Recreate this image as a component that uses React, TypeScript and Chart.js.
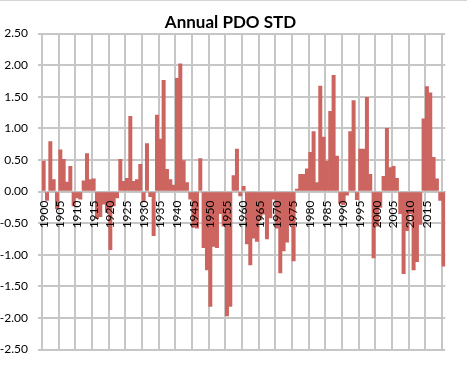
import React, { useEffect, useRef } from 'react';
import { Chart, registerables } from 'chart.js';

Chart.register(...registerables);

const TITLE = 'Annual PDO STD';

const years = [
  '1900','1901','1902','1903','1904','1905','1906','1907','1908','1909',
  '1910','1911','1912','1913','1914','1915','1916','1917','1918','1919',
  '1920','1921','1922','1923','1924','1925','1926','1927','1928','1929',
  '1930','1931','1932','1933','1934','1935','1936','1937','1938','1939',
  '1940','1941','1942','1943','1944','1945','1946','1947','1948','1949',
  '1950','1951','1952','1953','1954','1955','1956','1957','1958','1959',
  '1960','1961','1962','1963','1964','1965','1966','1967','1968','1969',
  '1970','1971','1972','1973','1974','1975','1976','1977','1978','1979',
  '1980','1981','1982','1983','1984','1985','1986','1987','1988','1989',
  '1990','1991','1992','1993','1994','1995','1996','1997','1998','1999',
  '2000','2001','2002','2003','2004','2005','2006','2007','2008','2009',
  '2010','2011','2012','2013','2014','2015','2016','2017','2018','2019',
  '2020',
];

const pdoValues = [
  0.48, -0.14, 0.79, 0.19, -0.27, 0.66, 0.51, 0.15, 0.40, -0.23,
  -0.10, -0.12, 0.17, 0.60, 0.19, 0.20, -0.43, -0.40, -0.20, -0.33,
  -0.92, -0.23, -0.10, 0.51, 0.16, 0.21, 1.19, 0.16, 0.19, 0.43,
  -0.16, 0.76, -0.08, -0.70, 1.21, 0.83, 1.76, 0.35, 0.19, 0.10,
  1.79, 2.02, 0.49, 0.14, -0.12, -0.57, -0.58, 0.52, -0.89, -1.24,
  -1.82, -0.87, -0.89, -0.35, -0.55, -1.97, -1.82, 0.25, 0.67, -0.07,
  0.08, -0.83, -1.16, -0.74, -0.79, -0.45, -0.36, -0.75, -0.42, -0.12,
  -0.58, -1.29, -0.94, -0.80, -0.50, -1.10, 0.04, 0.27, 0.27, 0.36,
  0.62, 0.95, 0.14, 1.67, 0.86, 0.48, 1.27, 1.84, 0.56, -0.19,
  -0.21, -0.06, 0.95, 1.44, -0.13, 0.67, 0.67, 1.49, 0.27, -1.05,
  -0.55, -0.25, 0.24, 1.00, 0.38, 0.40, 0.21, -0.35, -1.30, -0.62,
  -0.35, -1.24, -1.11, -0.52, 1.15, 1.66, 1.56, 0.54, 0.20, -0.14,
  -1.18,
];

const xTickLabels = [
  '1900','1905','1910','1915','1920','1925','1930','1935','1940','1945',
  '1950','1955','1960','1965','1970','1975','1980','1985','1990','1995',
  '2000','2005','2010','2015',
];

const Y_MIN = -2.5;
const Y_MAX = 2.5;
const Y_STEP = 0.5;

const BAR_COLOR = '#cc6560';
const GRID_COLOR = '#c6c6c6';
const FONT_FAMILY = 'Lato, "Open Sans", "Liberation Sans", sans-serif';

export default function App() {
  const canvasRef = useRef<HTMLCanvasElement | null>(null);

  useEffect(() => {
    const canvas = canvasRef.current;
    if (!canvas) return;
    const chart = new Chart(canvas, {
      type: 'bar',
      data: {
        labels: years,
        datasets: [
          {
            label: TITLE,
            data: pdoValues,
            backgroundColor: BAR_COLOR,
            borderWidth: 0,
            barPercentage: 1,
            categoryPercentage: 1,
          },
        ],
      },
      options: {
        animation: false,
        responsive: false,
        maintainAspectRatio: false,
        layout: { padding: { left: 0, right: 6, top: 0, bottom: 26.5 } },
        plugins: {
          legend: { display: false },
          tooltip: { enabled: false },
          title: {
            display: true,
            text: TITLE,
            color: '#000',
            font: { family: FONT_FAMILY, size: 17, weight: 'bold' },
            padding: { top: 12.5, bottom: 0.6 },
          },
        },
        scales: {
          x: {
            position: { y: 0 },
            offset: true,
            grid: {
              offset: true,
              drawTicks: false,
              lineWidth: 2,
              color: (ctx: any) =>
                typeof ctx.index === 'number' && ctx.index % 5 === 0 ? GRID_COLOR : 'rgba(0,0,0,0)',
            },
            border: { display: true, color: 'rgba(190,190,190,0.7)', width: 1, z: 1 },
            ticks: {
              autoSkip: false,
              minRotation: 90,
              maxRotation: 90,
              padding: 9,
              z: 1,
              color: '#000',
              font: { family: FONT_FAMILY, size: 12 },
              callback: (_v: any, i: number) =>
                xTickLabels.includes(years[i]) ? years[i] : '',
            },
          },
          y: {
            min: Y_MIN,
            max: Y_MAX,
            afterFit: (scale: any) => {
              scale.width = 42;
            },
            grid: { color: GRID_COLOR, lineWidth: 2, tickLength: 4 },
            border: { display: false },
            ticks: {
              stepSize: Y_STEP,
              padding: 10,
              color: '#000',
              font: { family: FONT_FAMILY, size: 12 },
              callback: (v: any) => Number(v).toFixed(2),
            },
          },
        },
      },
    });
    return () => chart.destroy();
  }, []);

  return (
    <div style={{ position: 'absolute', left: 0, top: 0, width: 467, height: 376, background: '#fff' }}>
      <canvas ref={canvasRef} width={467} height={376} style={{ display: 'block' }} />
      <div style={{ position: 'absolute', left: 0, top: 0, width: 467, height: 1, background: '#d4d4d4' }} />
    </div>
  );
}
